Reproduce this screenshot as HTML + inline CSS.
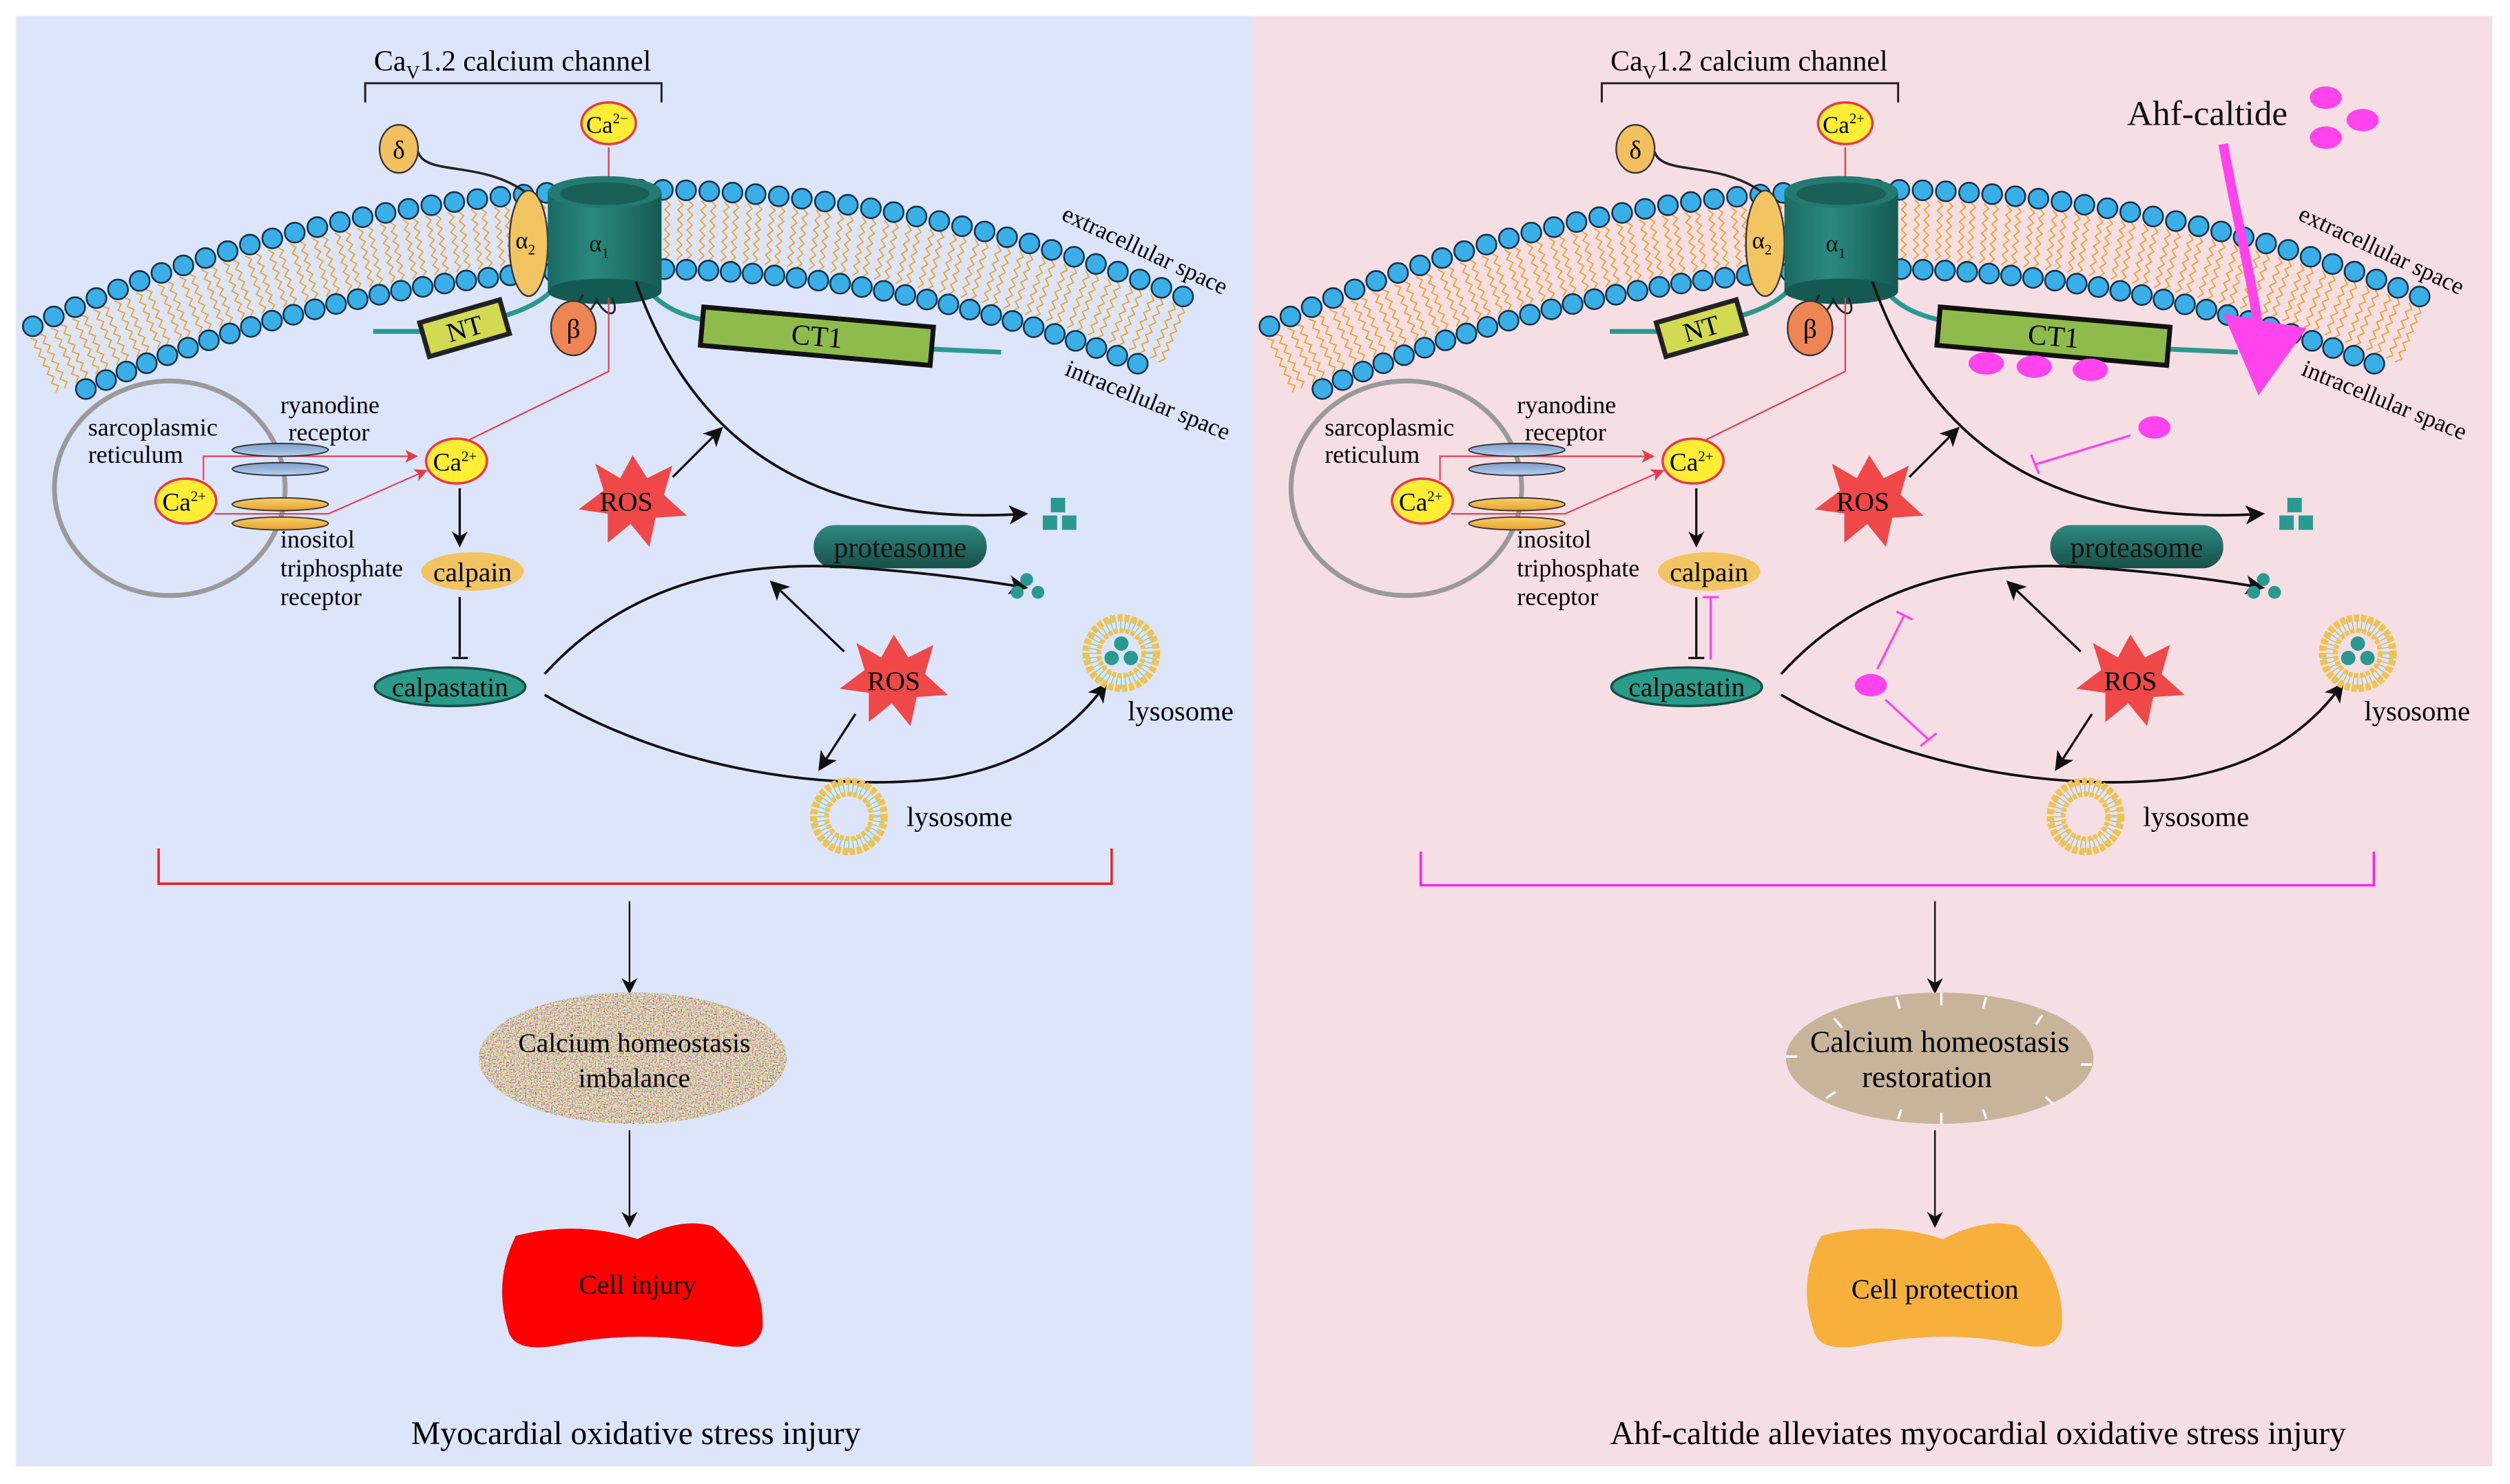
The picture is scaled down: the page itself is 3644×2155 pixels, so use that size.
<!DOCTYPE html>
<html><head><meta charset="utf-8"><style>
html,body{margin:0;padding:0;background:#fff;}
svg{display:block;}
text{font-family:"Liberation Serif",serif;}
</style></head><body>
<svg id="s" width="3644" height="2155" viewBox="0 0 1567 927" preserveAspectRatio="none" xmlns="http://www.w3.org/2000/svg">
<defs>
<marker id="ab" markerWidth="10" markerHeight="10" refX="8" refY="5" orient="auto" markerUnits="userSpaceOnUse"><path d="M0,0 L10,5 L0,10 L3,5 Z" fill="#111"/></marker>
<marker id="ab2" markerWidth="12" markerHeight="12" refX="10" refY="6" orient="auto" markerUnits="userSpaceOnUse"><path d="M0,0 L12,6 L0,12 L3,6 Z" fill="#111"/></marker>
<marker id="ar" markerWidth="8" markerHeight="8" refX="7" refY="4" orient="auto" markerUnits="userSpaceOnUse"><path d="M0,0 L8,4 L0,8 L2,4 Z" fill="#e8384a"/></marker>
<linearGradient id="cyl" x1="0" x2="1"><stop offset="0" stop-color="#1b6a62"/><stop offset="0.4" stop-color="#2a8a7e"/><stop offset="1" stop-color="#155a52"/></linearGradient>
<linearGradient id="prot" x1="0" y1="0" x2="0" y2="1"><stop offset="0" stop-color="#2f8a80"/><stop offset="1" stop-color="#174f48"/></linearGradient>
<linearGradient id="rb" x1="0" y1="0" x2="0" y2="1"><stop offset="0" stop-color="#7c9cc8"/><stop offset="1" stop-color="#b8d0ee"/></linearGradient>
<linearGradient id="ob" x1="0" y1="0" x2="0" y2="1"><stop offset="0" stop-color="#f7d068"/><stop offset="1" stop-color="#e8a030"/></linearGradient>
<filter id="noise" x="0" y="0" width="1" height="1">
<feTurbulence type="fractalNoise" baseFrequency="1.1" numOctaves="2" seed="3" result="t"/>
<feColorMatrix in="t" type="matrix" values="2.2 0 0 0 -0.4  0 2.0 0 0 -0.42  0 0 1.8 0 -0.45  0 0 0 0 1" result="c"/>
<feComposite in="c" in2="SourceGraphic" operator="in"/>
</filter>
<g id="lyso">
<circle r="18" fill="none" stroke="#8cc8a0" stroke-width="9" stroke-dasharray="0.6 2.2"/>
<circle r="22" fill="none" stroke="#f2c34c" stroke-width="4.5" stroke-dasharray="3.2 1.2"/>
<circle r="14" fill="none" stroke="#f2c34c" stroke-width="3" stroke-dasharray="2.6 1"/>
</g>
<polygon id="star" points="0,-22 7,-11 19,-17 15,-3 26,7 11,8 8,22 -1,11 -12,20 -12,6 -26,4 -14,-5 -18,-18 -6,-11" fill="#f04848"/>
<g id="top">
 <g id="mem"></g>
 <path d="M228,64 V52 H413 V64" fill="none" stroke="#222" stroke-width="1.3"/>
 <text x="320" y="44" font-size="18" text-anchor="middle">Ca<tspan font-size="12" dy="5">V</tspan><tspan dy="-5">1.2 calcium channel</tspan></text>
 <path d="M261,95 C266,110 300,100 328,120" fill="none" stroke="#222" stroke-width="1.5"/>
 <ellipse cx="249" cy="93" rx="12" ry="15" fill="#f3c060" stroke="#333" stroke-width="1"/>
 <text x="249" y="99" font-size="16" text-anchor="middle">δ</text>
 <line x1="380" y1="92" x2="380" y2="122" stroke="#e8384a" stroke-width="1"/>
 <path d="M233,207 L270,207" stroke="#2a9a90" stroke-width="3" fill="none"/>
 <path d="M312,198 Q335,192 346,180" stroke="#2a9a90" stroke-width="3" fill="none"/>
 <path d="M404,180 Q415,195 440,200" stroke="#2a9a90" stroke-width="3" fill="none"/>
 <path d="M580,218 L625,220" stroke="#2a9a90" stroke-width="3" fill="none"/>
 <ellipse cx="330" cy="152" rx="12" ry="33" fill="#f3c462" stroke="#333" stroke-width="1"/>
 <text x="328" y="155" font-size="15" text-anchor="middle">α<tspan font-size="9" dy="4">2</tspan></text>
 <rect x="342" y="120" width="71" height="62" fill="url(#cyl)"/>
 <ellipse cx="377.5" cy="182" rx="35.5" ry="8" fill="#155a52"/>
 <ellipse cx="377.5" cy="120" rx="35.5" ry="10" fill="#237a70"/>
 <ellipse cx="377.5" cy="121" rx="28" ry="7" fill="#1a6058"/>
 <text x="374" y="157" font-size="15" text-anchor="middle" fill="#111">α<tspan font-size="9" dy="4">1</tspan></text>
 <path d="M364,184 C356,196 366,202 372,188 M372,186 C378,200 388,198 382,186" fill="none" stroke="#222" stroke-width="1.2"/>
 <ellipse cx="358" cy="205" rx="14" ry="17" fill="#ef8455" stroke="#333" stroke-width="1"/>
 <text x="358" y="211" font-size="17" text-anchor="middle">β</text>
 <g transform="translate(290,205) rotate(-16)"><rect x="-26" y="-11" width="52" height="22" fill="#d2da52" stroke="#222" stroke-width="3"/><text x="0" y="6" font-size="17" text-anchor="middle">NT</text></g>
 <g transform="translate(510,210) rotate(5)"><rect x="-72" y="-12" width="144" height="24" fill="#8fbb4c" stroke="#111" stroke-width="3"/><text x="0" y="6" font-size="18" text-anchor="middle">CT1</text></g>
 <path d="M380,186 V232 L268,287" fill="none" stroke="#e8384a" stroke-width="0.9" marker-end="url(#ar)"/>
 <path d="M397,176 C430,270 500,330 640,321" fill="none" stroke="#111" stroke-width="1.6" marker-end="url(#ab2)"/>
 <rect x="656" y="311" width="9" height="9" fill="#2a9a90"/><rect x="651" y="322" width="9" height="9" fill="#2a9a90"/><rect x="663" y="322" width="9" height="9" fill="#2a9a90"/>
 <text x="662" y="137" font-size="15" transform="rotate(25 662 137)">extracellular space</text>
 <text x="664" y="234" font-size="15" transform="rotate(22 664 234)">intracellular space</text>
 <ellipse cx="106" cy="305" rx="72" ry="67" fill="none" stroke="#9a9a9a" stroke-width="3"/>
 <text x="55" y="272" font-size="15.5">sarcoplasmic</text>
 <text x="55" y="289" font-size="15.5">reticulum</text>
 <text x="175" y="258" font-size="15.5">ryanodine</text>
 <text x="180" y="275" font-size="15.5">receptor</text>
 <text x="175" y="342" font-size="15.5">inositol</text>
 <text x="175" y="360" font-size="15.5">triphosphate</text>
 <text x="175" y="378" font-size="15.5">receptor</text>
 <path d="M127,300 V285 H260" fill="none" stroke="#e8384a" stroke-width="0.9" marker-end="url(#ar)"/>
 <path d="M134,321 H205 L266,294" fill="none" stroke="#e8384a" stroke-width="0.9" marker-end="url(#ar)"/>
 <ellipse cx="175" cy="281" rx="30" ry="4" fill="url(#rb)" stroke="#333" stroke-width="0.8"/>
 <ellipse cx="175" cy="293" rx="30" ry="4" fill="url(#rb)" stroke="#333" stroke-width="0.8"/>
 <ellipse cx="175" cy="315" rx="30" ry="4" fill="url(#ob)" stroke="#333" stroke-width="0.8"/>
 <ellipse cx="175" cy="327" rx="30" ry="4" fill="url(#ob)" stroke="#333" stroke-width="0.8"/>
 <ellipse cx="116" cy="313" rx="19" ry="14" fill="#ffee33" stroke="#e8384a" stroke-width="1.5"/>
 <text x="115" y="319" font-size="16" text-anchor="middle">Ca<tspan font-size="9" dy="-6">2+</tspan></text>
 <ellipse cx="285" cy="288" rx="19" ry="14" fill="#ffee33" stroke="#e8384a" stroke-width="1.5"/>
 <text x="284" y="294" font-size="16" text-anchor="middle">Ca<tspan font-size="9" dy="-6">2+</tspan></text>
 <path d="M287,305 V340" stroke="#111" stroke-width="1.4" marker-end="url(#ab)"/>
 <ellipse cx="295" cy="357" rx="32" ry="12" fill="#f3c462"/>
 <text x="295" y="363" font-size="17" text-anchor="middle">calpain</text>
 <path d="M287,373 V411 M282,411 H292" stroke="#111" stroke-width="1.4"/>
 <ellipse cx="281" cy="429" rx="47" ry="12" fill="#2a9a8a" stroke="#174f48" stroke-width="1.5"/>
 <text x="281" y="435" font-size="17" text-anchor="middle">calpastatin</text>
 <use href="#star" transform="translate(395,313) scale(1.3)"/>
 <text x="391" y="319" font-size="17" text-anchor="middle">ROS</text>
 <path d="M420,298 L450,268" stroke="#111" stroke-width="1.4" marker-end="url(#ab2)"/>
 <rect x="508" y="328" width="108" height="27" rx="13" fill="url(#prot)"/>
 <text x="562" y="348" font-size="18" text-anchor="middle" fill="#111">proteasome</text>
 <path d="M340,421 C400,355 480,350 540,355 C580,358 610,362 640,367" fill="none" stroke="#111" stroke-width="1.6" marker-end="url(#ab2)"/>
 <circle cx="641" cy="362" r="4" fill="#2a9a90"/><circle cx="635" cy="370" r="4" fill="#2a9a90"/><circle cx="648" cy="370" r="4" fill="#2a9a90"/>
 <path d="M340,434 C420,482 520,495 590,486 C640,478 670,455 690,428" fill="none" stroke="#111" stroke-width="1.6" marker-end="url(#ab2)"/>
 <use href="#star" transform="translate(558,425) scale(1.3)"/>
 <text x="558" y="431" font-size="17" text-anchor="middle">ROS</text>
 <path d="M527,407 L482,364" stroke="#111" stroke-width="1.4" marker-end="url(#ab2)"/>
 <path d="M534,446 L512,480" stroke="#111" stroke-width="1.4" marker-end="url(#ab2)"/>
 <use href="#lyso" transform="translate(700,408)"/>
 <circle cx="700" cy="402" r="4.5" fill="#2a9a90"/><circle cx="694" cy="411" r="4.5" fill="#2a9a90"/><circle cx="706" cy="411" r="4.5" fill="#2a9a90"/>
 <text x="704" y="450" font-size="17.5">lysosome</text>
 <use href="#lyso" transform="translate(530,510)"/>
 <text x="566" y="516" font-size="17.5">lysosome</text>
</g>
</defs>

<rect x="10" y="10" width="772" height="906" fill="#dde5fb"/>
<rect x="782" y="10" width="774" height="906" fill="#f5dee4"/>

<use href="#top"/>
<ellipse cx="380" cy="77" rx="17" ry="13" fill="#ffee33" stroke="#e8384a" stroke-width="1.5"/>
<text x="379" y="83" font-size="15" text-anchor="middle">Ca<tspan font-size="9" dy="-6">2−</tspan></text>

<use href="#top" transform="translate(772,0)"/>
<ellipse cx="1152" cy="77" rx="17" ry="13" fill="#ffee33" stroke="#e8384a" stroke-width="1.5"/>
<text x="1151" y="83" font-size="15" text-anchor="middle">Ca<tspan font-size="9" dy="-6">2+</tspan></text>

<text x="1328" y="78" font-size="22" fill="#111">Ahf-caltide</text>
<ellipse cx="1452" cy="61" rx="10" ry="7" fill="#ff44ee"/><ellipse cx="1475" cy="75" rx="10" ry="7" fill="#ff44ee"/><ellipse cx="1452" cy="86" rx="10" ry="7" fill="#ff44ee"/>
<path d="M1388,90 C1395,130 1405,170 1410,205" fill="none" stroke="#ff44ee" stroke-width="6"/>
<path d="M1388,196 L1440,205 L1410,247 Z" fill="#ff44ee"/>
<ellipse cx="1240" cy="227" rx="11" ry="7" fill="#ff44ee"/><ellipse cx="1270" cy="229" rx="11" ry="7" fill="#ff44ee"/><ellipse cx="1305" cy="231" rx="11" ry="7" fill="#ff44ee"/>
<ellipse cx="1345" cy="267" rx="10" ry="7" fill="#ff44ee"/>
<path d="M1330,272 L1271,290 M1268,284 L1273,296" stroke="#ff44ee" stroke-width="1.4" fill="none"/>
<ellipse cx="1168" cy="428" rx="10" ry="7" fill="#ff44ee"/>
<path d="M1172,418 L1189,384 M1184,382 L1194,387" stroke="#ff44ee" stroke-width="1.4" fill="none"/>
<path d="M1177,437 L1204,462 M1199,466 L1209,458" stroke="#ff44ee" stroke-width="1.4" fill="none"/>
<path d="M1068,412 V373 M1063,373 H1073" stroke="#ff44ee" stroke-width="1.4" fill="none"/>

<!-- left lower -->
<path d="M99,530 V552 H694 V530" fill="none" stroke="#ee2020" stroke-width="1.5"/>
<line x1="393" y1="563" x2="393" y2="619" stroke="#111" stroke-width="1" marker-end="url(#ab)"/>
<ellipse cx="395" cy="661" rx="96" ry="41" fill="#c0a888"/>
<ellipse cx="395" cy="661" rx="96" ry="41" fill="#c8b08c" filter="url(#noise)"/>
<text x="396" y="657" font-size="17" text-anchor="middle">Calcium homeostasis</text>
<text x="396" y="679" font-size="17" text-anchor="middle">imbalance</text>
<line x1="393" y1="706" x2="393" y2="765" stroke="#111" stroke-width="1" marker-end="url(#ab)"/>
<path d="M322,772 Q360,762 398,774 Q425,760 445,766 Q478,795 476,830 Q472,845 450,840 Q400,830 350,840 Q320,846 317,830 Q308,800 322,772 Z" fill="#ff0000"/>
<text x="398" y="808" font-size="17" text-anchor="middle">Cell injury</text>
<text x="397" y="902" font-size="20.5" text-anchor="middle">Myocardial oxidative stress injury</text>

<!-- right lower -->
<path d="M887,532 V553 H1482 V532" fill="none" stroke="#ff22ee" stroke-width="1.5"/>
<line x1="1208" y1="563" x2="1208" y2="619" stroke="#111" stroke-width="1" marker-end="url(#ab)"/>
<ellipse cx="1211" cy="661" rx="96" ry="41" fill="#c8b49a"/>
<g stroke="#fff" stroke-width="1.5"><line x1="1212" y1="620" x2="1212" y2="628"/><line x1="1240" y1="623" x2="1238" y2="630"/><line x1="1184" y1="623" x2="1186" y2="630"/><line x1="1275" y1="634" x2="1271" y2="640"/><line x1="1145" y1="636" x2="1150" y2="642"/><line x1="1306" y1="665" x2="1299" y2="665"/><line x1="1115" y1="660" x2="1122" y2="660"/><line x1="1282" y1="690" x2="1277" y2="685"/><line x1="1140" y1="686" x2="1146" y2="682"/><line x1="1212" y1="702" x2="1212" y2="695"/><line x1="1185" y1="699" x2="1187" y2="693"/><line x1="1240" y1="699" x2="1238" y2="693"/></g>
<text x="1211" y="657" font-size="19" text-anchor="middle">Calcium homeostasis</text>
<text x="1203" y="679" font-size="19" text-anchor="middle">restoration</text>
<line x1="1208" y1="706" x2="1208" y2="765" stroke="#111" stroke-width="1" marker-end="url(#ab)"/>
<path d="M1137,772 Q1175,762 1213,774 Q1240,760 1260,766 Q1290,795 1287,830 Q1283,845 1262,840 Q1215,830 1165,840 Q1135,846 1132,830 Q1122,800 1137,772 Z" fill="#f8b03c"/>
<text x="1208" y="811" font-size="17.5" text-anchor="middle">Cell protection</text>
<text x="1235" y="902" font-size="20.5" text-anchor="middle">Ahf-caltide alleviates myocardial oxidative stress injury</text>
</svg>
<script>
(function(){
var g=document.getElementById("mem");
var cx=400.6,cy=1008,Ro=889.5,Ri=840,h="";
var step=0.0163;
function pt(r,a){return [cx+r*Math.sin(a),cy-r*Math.cos(a)];}
var a0=-25.3*Math.PI/180,a1=22.6*Math.PI/180;
for(var a=a0;a<=a1+1e-6;a+=step){
 for(var k=-1;k<=1;k+=2){
  var d="";var off=k*0.0035;
  for(var i=0;i<=12;i++){var r=Ro-6-(Ro-Ri-12)*i/12;var w=(i%2?1.6:-1.6)/r;var p=pt(r,a+off+w);d+=(i?"L":"M")+p[0].toFixed(1)+","+p[1].toFixed(1);}
  h+='<path d="'+d+'" fill="none" stroke="#f0a42a" stroke-width="0.8"/>';
 }
}
for(var a=a0;a<=a1+1e-6;a+=step){var p=pt(Ro,a);h+='<circle cx="'+p[0].toFixed(1)+'" cy="'+p[1].toFixed(1)+'" r="6.2" fill="#3aaee6" stroke="#12324a" stroke-width="1.1"/>';}
var b0=-24.4*Math.PI/180,b1=22.2*Math.PI/180;
for(var a=b0;a<=b1+1e-6;a+=step*Ro/Ri*0.95){var p=pt(Ri,a);h+='<circle cx="'+p[0].toFixed(1)+'" cy="'+p[1].toFixed(1)+'" r="6.2" fill="#3aaee6" stroke="#12324a" stroke-width="1.1"/>';}
g.innerHTML=h;
})();
</script>
</body></html>
